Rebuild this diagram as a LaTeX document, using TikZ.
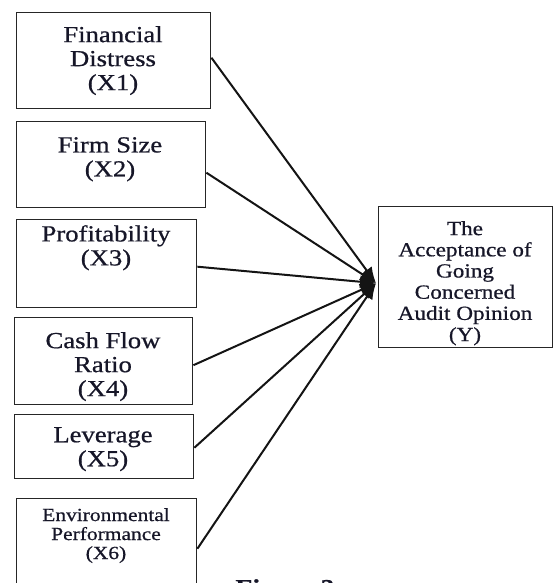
\documentclass[tikz,border=0pt]{standalone}
\usepackage{fontspec}
\setmainfont[FakeStretch=1.16,FakeBold=0.7]{Liberation Serif}
\usetikzlibrary{arrows.meta,calc}
\definecolor{ink}{RGB}{22,22,40}
\begin{document}
\begin{tikzpicture}[x=1pt,y=-1pt,
  varbox/.style={draw=black!85, line width=1.4pt, inner sep=0pt, anchor=north west},
  varlbl/.style={align=center, inner sep=0pt, anchor=north, text=ink,
                 font=\fontsize{23}{24}\selectfont},
  smalllbl/.style={varlbl, font=\fontsize{18.5}{19}\selectfont},
  outlbl/.style={varlbl, font=\fontsize{20}{21.2}\selectfont},
  link/.style={draw=black!92, line width=2pt, -{Latex[length=16pt,width=13pt]}}]
\useasboundingbox (0,0) rectangle (553,583);
\clip (0,0) rectangle (553,583);

% independent variables
\node[varbox, minimum width=194pt, minimum height=96pt] (x1) at (16,12)  {};
\node[varbox, minimum width=189pt, minimum height=86pt] (x2) at (16,121) {};
\node[varbox, minimum width=180pt, minimum height=88pt] (x3) at (16,219) {};
\node[varbox, minimum width=178pt, minimum height=87pt] (x4) at (14,317) {};
\node[varbox, minimum width=179pt, minimum height=64pt] (x5) at (14,414) {};
\node[varbox, minimum width=180pt, minimum height=100pt] (x6) at (16,498) {};

% dependent variable
\node[varbox, minimum width=174pt, minimum height=141pt] (yb) at (378,206) {};

% labels
\node[varlbl]   (t1) at (113,26)  {Financial\\Distress\\(X1)};
\node[varlbl]   (t2) at (110,137) {Firm Size\\(X2)};
\node[varlbl]   (t3) at (106,225) {Profitability\\(X3)};
\node[varlbl]   (t4) at (103,332) {Cash Flow\\Ratio\\(X4)};
\node[varlbl]   (t5) at (103,427) {Leverage\\(X5)};
\node[smalllbl] (t6) at (106,508) {Environmental\\Performance\\(X6)};
\node[outlbl]   (ty) at (465,221) {The\\Acceptance of\\Going\\Concerned\\Audit Opinion\\(Y)};

% caption below the figure
\node[anchor=north, inner sep=0pt, text=ink, font=\bfseries\fontsize{24}{24}\selectfont]
  (cap) at (285,579) {Figure 2};

% all arrows meet at one point on the left side of Y
\coordinate (hub) at ($(yb.west)+(-2,6)$);
\draw[link] ($(x1.east)+(0,-3)$) -- (hub);
\draw[link] ($(x2.east)+(0,8)$)  -- (hub);
\draw[link] ($(x3.east)+(0,3)$)  -- (hub);
\draw[link] ($(x4.east)+(0,4)$)  -- (hub);
\draw[link] ($(x5.east)+(0,1)$)  -- (hub);
\draw[link] ($(x6.east)+(0,0)$)  -- (hub);
\end{tikzpicture}
\end{document}
